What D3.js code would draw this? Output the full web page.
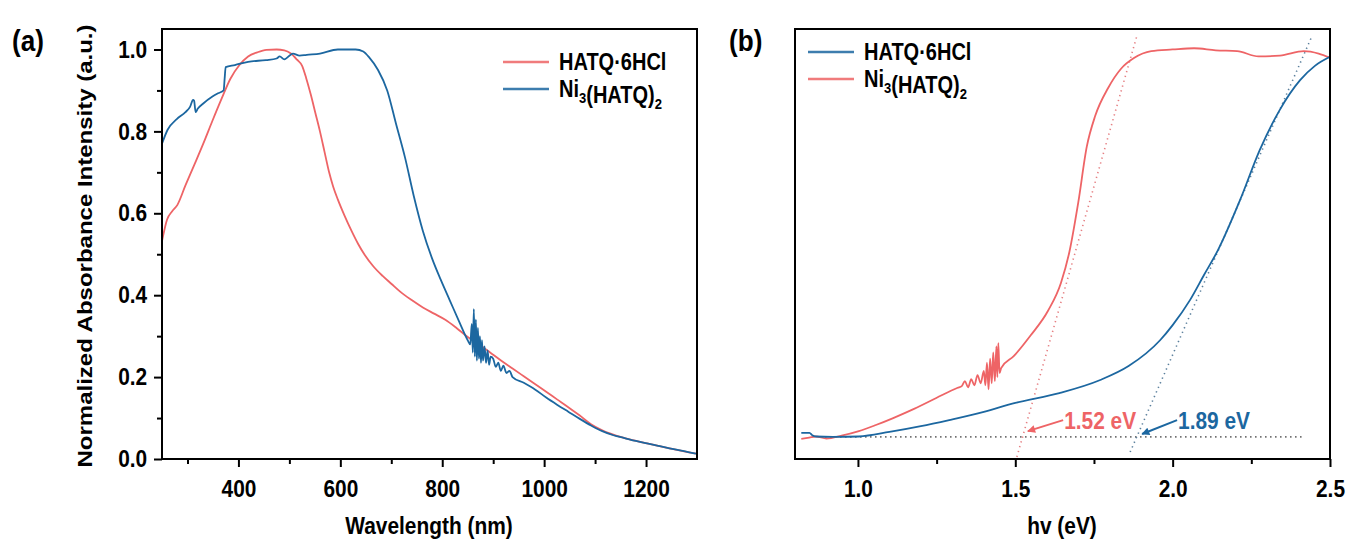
<!DOCTYPE html>
<html lang="en">
<head>
<meta charset="utf-8">
<title>UV-Vis absorbance and Tauc plot</title>
<script src="https://cdn.jsdelivr.net/npm/d3@7"></script>
<style>
  body { margin: 0; background: #fff; }
  svg text { font-family: "Liberation Sans", Arial, sans-serif; font-weight: bold; fill: #000; }
</style>
</head>
<body>
<script>
// (a) normalized absorbance vs wavelength
var hatqWl  = [250, 260, 270, 280, 296, 314, 331, 349, 367, 384, 402, 419, 437, 455, 475, 490, 503, 515, 525, 533, 542, 551, 560, 569, 578, 586, 595, 608, 622, 635, 648, 665, 683, 700, 718, 740, 762, 784, 806, 828, 850, 872, 894, 916, 938, 960, 982, 1004, 1026, 1048, 1070, 1092, 1114, 1158, 1202, 1246, 1298];
var hatqAbs = [0.532, 0.585, 0.605, 0.62, 0.668, 0.72, 0.77, 0.826, 0.88, 0.928, 0.962, 0.983, 0.993, 0.999, 1.0, 0.998, 0.99, 0.975, 0.96, 0.93, 0.89, 0.845, 0.80, 0.75, 0.70, 0.665, 0.634, 0.595, 0.557, 0.525, 0.498, 0.47, 0.447, 0.428, 0.408, 0.388, 0.37, 0.355, 0.34, 0.32, 0.298, 0.28, 0.26, 0.24, 0.221, 0.202, 0.183, 0.164, 0.145, 0.126, 0.106, 0.085, 0.07, 0.051, 0.038, 0.026, 0.013];

var niWl  = [250, 261, 279, 296, 305, 311, 313, 316, 320, 331, 349, 360, 371, 373, 375, 393, 419, 454, 475, 481, 490, 507, 520, 534, 560, 595, 630, 645, 657, 674, 692, 709, 727, 744, 762, 780, 797, 815, 833, 850, 855, 858, 860, 862, 864, 866, 868, 870, 872, 874, 876, 878, 880, 883, 886, 889, 892, 895, 900, 905, 910, 915, 920, 926, 932, 938, 960, 982, 1004, 1026, 1048, 1070, 1092, 1114, 1136, 1158, 1180, 1202, 1224, 1246, 1272, 1298];
var niAbs = [0.77, 0.804, 0.83, 0.847, 0.86, 0.877, 0.875, 0.847, 0.855, 0.868, 0.885, 0.893, 0.90, 0.93, 0.957, 0.962, 0.97, 0.974, 0.978, 0.983, 0.976, 0.99, 0.985, 0.987, 0.99, 1.0, 1.0, 0.995, 0.98, 0.95, 0.90, 0.82, 0.736, 0.643, 0.557, 0.49, 0.438, 0.387, 0.336, 0.29, 0.28, 0.33, 0.26, 0.366, 0.25, 0.34, 0.24, 0.32, 0.245, 0.30, 0.235, 0.29, 0.24, 0.275, 0.235, 0.265, 0.23, 0.25, 0.245, 0.225, 0.235, 0.215, 0.228, 0.21, 0.215, 0.2, 0.186, 0.17, 0.15, 0.132, 0.115, 0.098, 0.082, 0.068, 0.058, 0.051, 0.044, 0.038, 0.032, 0.026, 0.02, 0.013];

var wlTicks = [400, 600, 800, 1000, 1200];
var wlMinor = [300, 500, 700, 900, 1100];
var absTicks = [0.0, 0.2, 0.4, 0.6, 0.8, 1.0];
var absMinor = [0.1, 0.3, 0.5, 0.7, 0.9];

// (b) hv plot
var hatqEv  = [0.82, 0.846, 0.855, 0.866, 0.92, 1.003, 1.10, 1.20, 1.29, 1.40, 1.50, 1.64, 1.77, 1.86, 1.96, 2.0, 2.055, 2.10, 2.144, 2.214, 2.277, 2.34, 2.405, 2.452, 2.5];
var hatqTau = [0.064, 0.064, 0.058, 0.055, 0.054, 0.055, 0.066, 0.08, 0.095, 0.115, 0.137, 0.161, 0.193, 0.227, 0.29, 0.327, 0.388, 0.45, 0.51, 0.632, 0.755, 0.852, 0.925, 0.96, 0.982];

var niEv  = [0.82, 0.845, 0.866, 0.9, 0.948, 1.003, 1.057, 1.112, 1.18, 1.249, 1.317, 1.33, 1.34, 1.35, 1.36, 1.37, 1.38, 1.39, 1.40, 1.405, 1.41, 1.415, 1.42, 1.425, 1.43, 1.435, 1.44, 1.443, 1.446, 1.45, 1.455, 1.495, 1.549, 1.604, 1.645, 1.672, 1.70, 1.727, 1.754, 1.795, 1.836, 1.877, 1.932, 2.0, 2.068, 2.137, 2.205, 2.273, 2.341, 2.417, 2.464, 2.5];
var niTau = [0.049, 0.052, 0.055, 0.05, 0.057, 0.068, 0.083, 0.10, 0.123, 0.149, 0.174, 0.178, 0.19, 0.175, 0.195, 0.18, 0.205, 0.185, 0.215, 0.18, 0.235, 0.17, 0.245, 0.185, 0.26, 0.19, 0.275, 0.2, 0.283, 0.21, 0.222, 0.251, 0.302, 0.362, 0.43, 0.506, 0.626, 0.762, 0.838, 0.906, 0.953, 0.979, 0.996, 1.0, 1.003, 0.998, 0.996, 0.983, 0.985, 0.996, 0.99, 0.98];

var evTicks = [1.0, 1.5, 2.0, 2.5];
var evMinor = [1.25, 1.75, 2.25];

// tangent fits and baseline
var fitNiEv = [1.505, 1.887],  fitNiY = [0.005, 1.035];
var fitHatqEv = [1.865, 2.44], fitHatqY = [0.017, 1.028];
var baseEv = [0.88, 2.41],     baseY = [0.054, 0.054];

var gapLabels = ["1.52 eV", "1.89 eV"];
var gapArrowFrom = [[1.652, 0.095], [2.014, 0.095]];
var gapArrowTo   = [[1.540, 0.068], [1.903, 0.061]];

var red = "#ee6466";
var blue = "#1c67a0";

var W = 1353, H = 548;
var SX = 0.87;   // text in the figure is narrow / tall
var svg = d3.select("body").append("svg").attr("width", W).attr("height", H);

var defs = svg.append("defs");
function arrowHead(id, color){
  defs.append("marker").attr("id", id)
    .attr("viewBox", "0 0 10 10").attr("refX", 9).attr("refY", 5)
    .attr("markerWidth", 11).attr("markerHeight", 8)
    .attr("markerUnits", "userSpaceOnUse")
    .attr("orient", "auto")
    .append("path").attr("d", "M0,0 L10,5 L0,10 z").attr("fill", color);
}
arrowHead("arrRed", red);
arrowHead("arrBlue", blue);

var fontSize = 24;

function zip(xs, ys){ return xs.map(function(x, i){ return [x, ys[i]]; }); }

// text placed at (x,y), squeezed horizontally
function label(g, x, y, size, str){
  return g.append("text")
    .attr("transform", "translate(" + x + "," + y + ") scale(" + SX + ",1)")
    .attr("font-size", size).text(str);
}

function frame(g, x, y){
  var r = x.range(), t = y.range();
  g.append("rect")
    .attr("x", r[0]).attr("y", t[1])
    .attr("width", r[1] - r[0]).attr("height", t[0] - t[1])
    .attr("fill", "none").attr("stroke", "#000").attr("stroke-width", 2);
}

function styleAxis(sel){
  sel.select(".domain").remove();
  sel.selectAll("line").attr("stroke", "#000").attr("stroke-width", 2);
  sel.selectAll("text").attr("font-size", fontSize)
    .attr("font-family", "'Liberation Sans', Arial, sans-serif")
    .attr("font-weight", "bold").attr("fill", "#000")
    .attr("transform", "scale(" + SX + ",1)");
}

function xAxes(g, x, y, ticks, minor, fmt){
  var y0 = y.range()[0];
  g.append("g").attr("transform", "translate(0," + y0 + ")")
    .call(d3.axisBottom(x).tickValues(minor).tickSize(5).tickFormat(""))
    .call(styleAxis);
  g.append("g").attr("transform", "translate(0," + y0 + ")")
    .call(d3.axisBottom(x).tickValues(ticks).tickSize(8).tickPadding(13).tickFormat(fmt))
    .call(styleAxis);
}

function legend(g, x0, y0, items){
  items.forEach(function(it, i){
    var yy = y0 + i * 27;
    g.append("line").attr("x1", x0).attr("x2", x0 + 46)
      .attr("y1", yy).attr("y2", yy)
      .attr("stroke", it.color).attr("stroke-width", 2.5).attr("opacity", 0.85);
    var t = label(g, x0 + 56, yy + 8, 23, "");
    it.parts.forEach(function(p){
      if (p.sub) {
        t.append("tspan").attr("dy", 6).attr("font-size", 15).text(p.text);
        t.append("tspan").attr("dy", -6).text("");
      } else {
        t.append("tspan").text(p.text);
      }
    });
  });
}

var hatqParts = [{text: "HATQ\u00b76HCl"}];
var niParts = [{text: "Ni"}, {text: "3", sub: true}, {text: "(HATQ)"}, {text: "2", sub: true}];

// ---------------- panel (a)
var xa = d3.scaleLinear().domain([250, 1300]).range([162, 697]);
var ya = d3.scaleLinear().domain([0, 1.05]).range([459, 29]);
var ga = svg.append("g");

var lineA = d3.line().curve(d3.curveMonotoneX)
  .x(function(d){ return xa(d[0]); }).y(function(d){ return ya(d[1]); });
defs.append("clipPath").attr("id", "clipA").append("rect")
  .attr("x", 162).attr("y", 29).attr("width", 535).attr("height", 430);

var curvesA = ga.append("g").attr("clip-path", "url(#clipA)");
curvesA.append("path").datum(zip(hatqWl, hatqAbs)).attr("d", lineA)
  .attr("fill", "none").attr("stroke", red).attr("stroke-width", 1.8);
curvesA.append("path").datum(zip(niWl, niAbs)).attr("d", lineA)
  .attr("fill", "none").attr("stroke", blue).attr("stroke-width", 1.8);

frame(ga, xa, ya);
xAxes(ga, xa, ya, wlTicks, wlMinor, d3.format("d"));
ga.append("g").attr("transform", "translate(162,0)")
  .call(d3.axisLeft(ya).tickValues(absMinor).tickSize(5).tickFormat(""))
  .call(styleAxis);
ga.append("g").attr("transform", "translate(162,0)")
  .call(d3.axisLeft(ya).tickValues(absTicks).tickSize(8).tickPadding(9).tickFormat(d3.format(".1f")))
  .call(styleAxis);

label(ga, 429, 534, fontSize, "Wavelength (nm)").attr("text-anchor", "middle");
ga.append("text").attr("transform", "translate(92,246) rotate(-90) scale(1," + SX + ")")
  .attr("text-anchor", "middle").attr("font-size", fontSize)
  .text("Normalized Absorbance Intensity (a.u.)");
label(ga, 12, 51, 30, "(a)");

legend(ga, 503, 62, [{color: red, parts: hatqParts}, {color: blue, parts: niParts}]);

// ---------------- panel (b)
var xb = d3.scaleLinear().domain([0.8, 2.5]).range([795, 1330]);
var yb = d3.scaleLinear().domain([0, 1.05]).range([459, 29]);
var gb = svg.append("g");
var lineB = d3.line().curve(d3.curveMonotoneX)
  .x(function(d){ return xb(d[0]); }).y(function(d){ return yb(d[1]); });

defs.append("clipPath").attr("id", "clipB").append("rect")
  .attr("x", 795).attr("y", 29).attr("width", 535).attr("height", 430);
var curvesB = gb.append("g").attr("clip-path", "url(#clipB)");

// dotted guides
function dotted(pts, color){
  curvesB.append("path").datum(pts).attr("d", d3.line().x(function(d){ return xb(d[0]); }).y(function(d){ return yb(d[1]); }))
    .attr("fill", "none").attr("stroke", color).attr("stroke-width", 1.6)
    .attr("stroke-dasharray", "1.3,3.7");
}
dotted(zip(baseEv, baseY), "#555");
dotted(zip(fitNiEv, fitNiY), "#e57f82");
dotted(zip(fitHatqEv, fitHatqY), "#5a7f9c");

curvesB.append("path").datum(zip(niEv, niTau)).attr("d", lineB)
  .attr("fill", "none").attr("stroke", red).attr("stroke-width", 1.8);
curvesB.append("path").datum(zip(hatqEv, hatqTau)).attr("d", lineB)
  .attr("fill", "none").attr("stroke", blue).attr("stroke-width", 1.8);

frame(gb, xb, yb);
xAxes(gb, xb, yb, evTicks, evMinor, d3.format(".1f"));

label(gb, 1062, 534, fontSize, "hv (eV)").attr("text-anchor", "middle");
label(gb, 729, 51, 30, "(b)");

legend(gb, 808, 52, [{color: blue, parts: hatqParts}, {color: red, parts: niParts}]);

// band gap arrows
var gapColors = [red, blue];
var gapMarkers = ["arrRed", "arrBlue"];
gapLabels.forEach(function(lbl, i){
  gb.append("line")
    .attr("x1", xb(gapArrowFrom[i][0])).attr("y1", yb(gapArrowFrom[i][1]))
    .attr("x2", xb(gapArrowTo[i][0])).attr("y2", yb(gapArrowTo[i][1]))
    .attr("stroke", gapColors[i]).attr("stroke-width", 2)
    .attr("marker-end", "url(#" + gapMarkers[i] + ")");
  label(gb, xb(gapArrowFrom[i][0]) + 1, yb(gapArrowFrom[i][1]) + 9, fontSize, lbl)
    .style("fill", gapColors[i]);
});
</script>
</body>
</html>
